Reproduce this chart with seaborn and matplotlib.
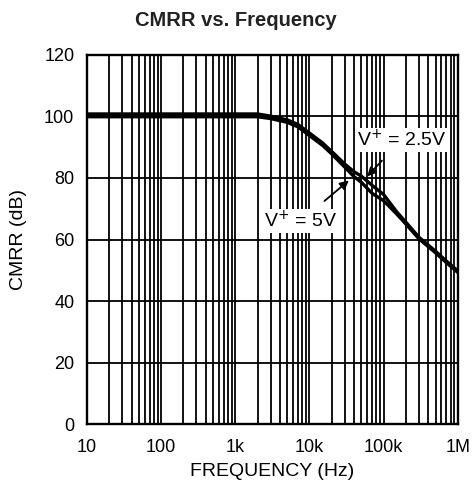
import matplotlib
matplotlib.use("Agg")
import matplotlib.pyplot as plt
import matplotlib.ticker as mticker
import seaborn as sns
import pandas as pd

# ── Data ───────────────────────────────────────────────────────────
freq = [10, 100, 1000, 2000, 3000, 5000, 7000, 10000, 15000, 20000, 30000,
        40000, 50000, 70000, 100000, 150000, 200000, 300000, 500000, 700000, 1000000]
cmrr_5v = [99.9, 99.9, 99.9, 99.9, 99.3, 98.1, 96.6, 93.8, 90.6, 87.8, 83.5,
           80.4, 78.6, 75.0, 72.6, 68.3, 65.0, 60.2, 55.7, 52.5, 49.3]
cmrr_25v = [100.8, 100.8, 100.8, 100.8, 100.1, 98.9, 97.4, 94.6, 91.4, 88.6, 84.5,
            82.0, 80.6, 77.6, 74.6, 69.0, 65.6, 60.7, 56.2, 53.0, 49.8]

x_ticks = [10, 100, 1e3, 1e4, 1e5, 1e6]
x_tick_labels = ['10', '100', '1k', '10k', '100k', '1M']
y_ticks = [0, 20, 40, 60, 80, 100, 120]

df = pd.concat([
    pd.DataFrame({'freq': freq, 'cmrr': cmrr_5v, 'supply': '5V'}),
    pd.DataFrame({'freq': freq, 'cmrr': cmrr_25v, 'supply': '2.5V'}),
])

sns.set_style("white")
plt.rcParams['font.family'] = ['Liberation Sans', 'DejaVu Sans']
plt.rcParams['text.color'] = 'black'
plt.rcParams['axes.labelcolor'] = 'black'

fig = plt.figure(figsize=(4.72, 4.99), dpi=100)
ax = fig.add_axes([0.184, 0.150, 0.786, 0.740])

sns.lineplot(data=df, x='freq', y='cmrr', hue='supply', units='supply',
             estimator=None, palette=['black', 'black'], linewidth=2.4,
             legend=False, ax=ax)

ax.set_xscale('log')
ax.set_xlim(10, 1e6)
ax.set_ylim(0, 120)
ax.set_xticks(x_ticks)
ax.set_xticklabels(x_tick_labels)
ax.set_yticks(y_ticks)
ax.xaxis.set_minor_locator(mticker.LogLocator(base=10, subs=range(2, 10)))
ax.xaxis.set_minor_formatter(mticker.NullFormatter())
ax.grid(which='both', axis='x', color='black', linewidth=1.3)
ax.grid(which='major', axis='y', color='black', linewidth=1.3)
ax.tick_params(which='both', length=0, labelsize=13, colors='black')
ax.tick_params(axis='x', pad=11)
ax.tick_params(axis='y', pad=9)
for s in ax.spines.values():
    s.set_color('black')
    s.set_linewidth(1.7)

ax.set_xlabel('FREQUENCY (Hz)', fontsize=14, labelpad=5)
ax.set_ylabel('CMRR (dB)', fontsize=14, labelpad=12)
fig.suptitle('CMRR vs. Frequency', fontsize=14.5, fontweight='bold', y=0.978,
             color='#222222')

box = dict(facecolor='white', edgecolor='none', pad=1)
ax.annotate('V$^{+}$ = 2.5V', xy=(60000, 80.5), xytext=(175000, 92.5),
            ha='center', va='center', fontsize=14, bbox=box,
            arrowprops=dict(arrowstyle='-|>', color='black', lw=1.3,
                            shrinkA=9, shrinkB=0, mutation_scale=13))
ax.annotate('V$^{+}$ = 5V', xy=(34000, 79.2), xytext=(7600, 66),
            ha='center', va='center', fontsize=14, bbox=box,
            arrowprops=dict(arrowstyle='-|>', color='black', lw=1.3,
                            shrinkA=9, shrinkB=0, mutation_scale=13))

fig.savefig('out.png', dpi=100)
